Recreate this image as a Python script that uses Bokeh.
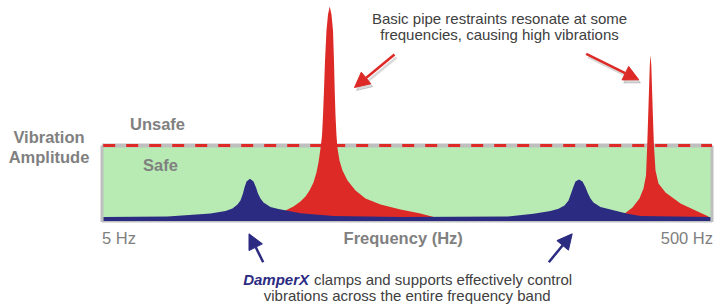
from bokeh.plotting import figure
from bokeh.models import Range1d, Label, Arrow, NormalHead
from bokeh.embed import file_html
from bokeh.resources import INLINE

# ---------------- data (x = position across band 0..100 %, 5 Hz -> 500 Hz; amplitude: 1.0 = safe limit)
red_a_pos = [26.80, 28.44, 30.08, 31.39, 32.54, 33.36, 34.02, 34.67, 35.16, 35.49, 35.82, 36.07,
             36.23, 36.39, 36.56, 36.80, 37.05, 37.33, 37.62, 37.87, 38.03, 38.15, 38.28, 38.44,
             38.61, 38.93, 39.43, 40.25, 41.56, 43.20, 45.66, 48.93, 52.21, 55.00]
red_a_amp = [0.026, 0.086, 0.139, 0.192, 0.258, 0.325, 0.404, 0.510, 0.642, 0.775, 0.960, 1.132,
             1.397, 1.728, 2.126, 2.523, 2.735, 2.841, 2.735, 2.523, 2.126, 1.728, 1.397, 1.132,
             0.960, 0.801, 0.669, 0.536, 0.404, 0.298, 0.219, 0.152, 0.099, 0.040]

red_b_pos = [83.69, 85.49, 86.97, 88.11, 88.77, 89.18, 89.38, 89.54, 89.67, 89.80, 89.92,
             90.05, 90.18, 90.31, 90.48, 90.74, 91.23, 92.38, 94.84, 97.30, 99.43]
red_b_amp = [0.026, 0.086, 0.179, 0.298, 0.430, 0.603, 1.000, 1.397, 1.728, 2.060, 2.199,
             2.060, 1.728, 1.397, 1.000, 0.669, 0.497, 0.377, 0.232, 0.139, 0.060]

blue_pos = [0.25, 10.74, 17.79, 20.25, 21.39, 22.21, 22.70, 23.11, 23.36, 23.69, 24.26, 24.84,
            25.25, 25.57, 25.98, 26.48, 27.62, 28.93, 32.54, 37.95, 48.93, 66.48, 70.74, 73.52,
            74.84, 75.82, 76.48, 76.89, 77.25, 77.62, 78.20, 78.77, 79.26, 79.67, 80.08, 80.57,
            81.72, 82.87, 86.15, 88.28, 99.75]
blue_amp = [0.053, 0.060, 0.099, 0.132, 0.166, 0.219, 0.272, 0.364, 0.444, 0.523, 0.559, 0.523,
            0.444, 0.364, 0.298, 0.245, 0.185, 0.159, 0.103, 0.066, 0.053, 0.060, 0.095, 0.132,
            0.162, 0.205, 0.272, 0.364, 0.448, 0.523, 0.550, 0.523, 0.448, 0.364, 0.298, 0.245,
            0.185, 0.162, 0.095, 0.066, 0.053]

band_start, band_end = 0, 100
safe_limit = 1.0
freq_labels = ["5 Hz", "500 Hz"]

# ---------------- colours
GREEN = "#B7EBB3"
RED = "#DD2A27"
NAVY = "#2C2B82"
BORDER = "#BFBFBF"
GREY_TXT = "#808080"
DARK_TXT = "#404040"
FONT = "Liberation Sans"

# pixel helpers for annotation placement (page is 720 x 305)
PX0, PXW = 101.5, 6.1      # px of band start, px per %
PY0, PYH = 220.5, 75.5     # px of zero amplitude, px per amplitude unit
def X(px): return (px - PX0) / PXW
def Y(py): return (PY0 - py) / PYH

p = figure(width=720, height=305, x_range=Range1d(X(0), X(720)), y_range=Range1d(Y(305), Y(0)),
           output_backend="svg", toolbar_location=None, x_axis_type=None, y_axis_type=None,
           min_border=0, outline_line_color=None, background_fill_color="white")
p.grid.visible = False

# safe zone
p.quad(left=band_start, right=band_end, bottom=0, top=safe_limit, fill_color=GREEN, line_color=None)
# frame
p.line([band_start, band_start], [Y(221.5), safe_limit], line_color=BORDER, line_width=3)
p.line([band_end, band_end], [Y(221.5), safe_limit], line_color=BORDER, line_width=3)
p.line([band_start, band_end], [Y(221.2), Y(221.2)], line_color=BORDER, line_width=1.5)
p.line([band_start, band_end], [safe_limit, safe_limit], line_color=BORDER, line_width=4)
p.line([X(102.7), band_end], [safe_limit, safe_limit], line_color=RED, line_width=3, line_dash="12 11")

# resonance peaks
p.varea(x=red_a_pos, y1=0, y2=red_a_amp, fill_color=RED)
p.varea(x=red_b_pos, y1=0, y2=red_b_amp, fill_color=RED)
p.varea(x=blue_pos, y1=0, y2=blue_amp, fill_color=NAVY)

SHIFT = 5.5  # renderer places alphabetic baseline slightly low
def lab(px, py, text, size="16.5px", style="normal", color=GREY_TXT, align="center"):
    p.add_layout(Label(x=X(px), y=Y(py - SHIFT), text=text, text_font=FONT, text_font_size=size,
                       text_font_style=style, text_color=color, text_align=align,
                       text_baseline="alphabetic"))

lab(48.5, 141.5, "Vibration", style="bold")
lab(48.5, 161.5, "Amplitude", style="bold")
lab(157, 128.5, "Unsafe", style="bold")
lab(160, 169.5, "Safe", style="bold")
lab(101.5, 243, freq_labels[0], align="left")
lab(712.5, 242.5, freq_labels[1], align="right")
lab(402.7, 242.5, "Frequency (Hz)", style="bold")

lab(499, 23.5, "Basic pipe restraints resonate at some", size="15px", color=DARK_TXT)
lab(499, 39.5, "frequencies, causing high vibrations", size="15px", color=DARK_TXT)

lab(242.7, 284.5, "DamperX", size="15px", style="bold italic", color=NAVY, align="left")
lab(313.5, 284.5, "clamps and supports effectively control", size="15px", color=DARK_TXT, align="left")
lab(406.7, 300, "vibrations across the entire frequency band", size="15px", color=DARK_TXT)

def arrow(x0, y0, x1, y1, color, alpha=1.0):
    p.add_layout(Arrow(end=NormalHead(size=15, fill_color=color, line_color=color,
                                      fill_alpha=alpha, line_alpha=alpha),
                       x_start=X(x0), y_start=Y(y0), x_end=X(x1), y_end=Y(y1),
                       line_color=color, line_width=2.5, line_alpha=alpha))

# shadows for red arrows
arrow(396, 57, 356, 90, "#000000", 0.15)
arrow(587.5, 56.5, 640, 82.5, "#000000", 0.15)
arrow(394, 54, 354, 87, RED)
arrow(585.7, 53.3, 638.3, 79.3, RED)
arrow(262.7, 261.7, 248.5, 233.3, NAVY)
arrow(548.3, 261.7, 571.7, 233.3, NAVY)

open("out.html", "w").write(file_html(p, INLINE))
